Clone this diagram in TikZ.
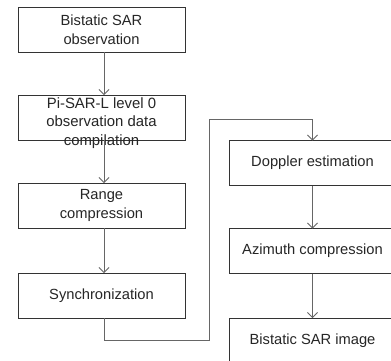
\documentclass[tikz,border=0pt]{standalone}
\usepackage{fontspec}
\setmainfont{Liberation Sans}
\usetikzlibrary{arrows.meta}
\begin{document}
\begin{tikzpicture}[x=1pt,y=-1pt,
  box/.style={draw=black!80,line width=0.9pt,minimum width=167pt,minimum height=45pt,inner sep=0pt,outer sep=0pt},
  txt/.style={align=center,font=\fontsize{14.7}{19}\selectfont,text=black!85,inner sep=0pt},
  conn/.style={draw=black!60,line width=0.9pt},
  arr/.style={conn,-{Straight Barb[length=5pt,width=10pt,line width=0.8pt]}}]
\useasboundingbox (0,0) rectangle (391,360);
\clip (0,0) rectangle (391,360);
\fill[white] (0,0) rectangle (391,360);
\node[box] (b1) at (101.5,29.5) {};
\node[box] (b2) at (101.5,117.5) {};
\node[box] (b3) at (101.5,205.5) {};
\node[box] (b4) at (101.5,295.5) {};
\node[box] (r1) at (312.5,163) {};
\node[box] (r2) at (312.5,251) {};
\node[box] (r3) at (312.5,340.5) {};
\node[txt] (t1) at (b1) {Bistatic SAR\\observation};
\node[txt,font=\fontsize{14.9}{18.7}\selectfont] (t2) at ([yshift=-5.5pt]b2) {Pi-SAR-L level 0\\observation data\\compilation};
\node[txt] (t3) at (b3) {Range\\compression};
\node[txt] (t4) at (b4) {Synchronization};
\node[txt] (u1) at (r1) {Doppler estimation};
\node[txt] (u2) at (r2) {Azimuth compression};
\node[txt] (u3) at (r3) {Bistatic SAR image};
\draw[arr] ([xshift=2.5pt]b1.south) -- ([xshift=2.5pt]b2.north);
\draw[arr] ([xshift=2.5pt]b2.south) -- ([xshift=2.5pt]b3.north);
\draw[arr] ([xshift=2.5pt]b3.south) -- ([xshift=2.5pt]b4.north);
\coordinate (c2) at (209,340);
\coordinate (c3) at (209,119);
\draw[arr] ([xshift=2.5pt]b4.south) |- (c2) -- (c3) -| (r1.north);
\draw[arr] (r1.south) -- (r2.north);
\draw[arr] (r2.south) -- (r3.north);
\end{tikzpicture}
\end{document}
